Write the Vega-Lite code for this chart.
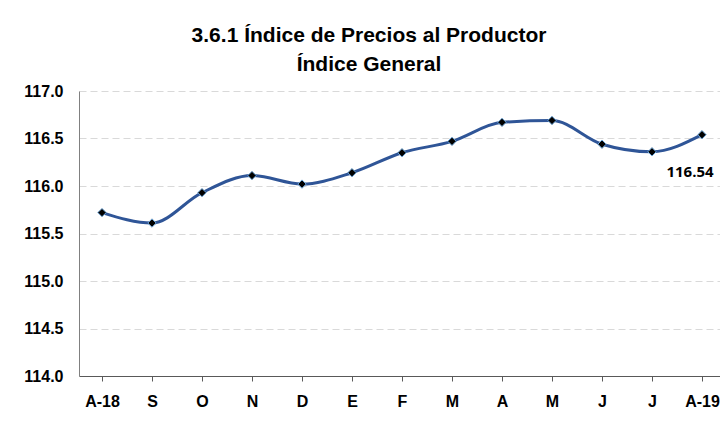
{
  "$schema": "https://vega.github.io/schema/vega-lite/v6.json",
  "autosize": {"type": "none"},
  "width": 646,
  "height": 285,
  "padding": {"left": 79, "top": 91, "right": 0, "bottom": 47},
  "background": "white",
  "title": {
    "text": ["3.6.1 Índice de Precios al Productor", "Índice General"],
    "font": "Liberation Sans",
    "fontSize": 21,
    "fontWeight": "bold",
    "color": "#000000",
    "anchor": "middle",
    "dx": -33,
    "offset": 8,
    "lineHeight": 29
  },
  "data": {
    "values": [
      {"mes": "A-18", "valor": 115.72},
      {"mes": "S", "valor": 115.61},
      {"mes": "O", "valor": 115.93},
      {"mes": "N", "valor": 116.11},
      {"mes": "D", "valor": 116.02},
      {"mes": "E", "valor": 116.14},
      {"mes": "F", "valor": 116.35},
      {"mes": "M1", "valor": 116.47},
      {"mes": "A", "valor": 116.67},
      {"mes": "M2", "valor": 116.69},
      {"mes": "J1", "valor": 116.44},
      {"mes": "J2", "valor": 116.36},
      {"mes": "A-19", "valor": 116.54}
    ]
  },
  "encoding": {
    "x": {
      "field": "mes",
      "type": "ordinal",
      "sort": null,
      "scale": {"type": "point", "padding": 0.46},
      "axis": {
        "title": null,
        "labelAngle": 0,
        "labelExpr": "length(datum.label) == 2 ? substring(datum.label, 0, 1) : datum.label",
        "labelFont": "Liberation Sans",
        "labelFontSize": 16,
        "labelFontWeight": "bold",
        "labelColor": "#000000",
        "labelPadding": 12,
        "domainColor": "#595959",
        "domainWidth": 1,
        "tickColor": "#595959",
        "tickSize": 5,
        "grid": false
      }
    },
    "y": {
      "field": "valor",
      "type": "quantitative",
      "scale": {"domain": [114, 117], "zero": false, "nice": false},
      "axis": {
        "title": null,
        "values": [114, 114.5, 115, 115.5, 116, 116.5, 117],
        "format": ".1f",
        "labelFont": "Liberation Sans",
        "labelFontSize": 16,
        "labelFontWeight": "bold",
        "labelColor": "#000000",
        "labelPadding": 16,
        "ticks": false,
        "domainColor": "#808080",
        "domainWidth": 1,
        "grid": true,
        "gridColor": "#d9d9d9",
        "gridDash": [7, 4],
        "gridWidth": 1
      }
    }
  },
  "layer": [
    {
      "mark": {"type": "line", "interpolate": "monotone", "color": "#2f5597", "strokeWidth": 3}
    },
    {
      "mark": {"type": "point", "shape": "diamond", "filled": true, "size": 70, "fill": "#000000", "stroke": "#6fa8dc", "strokeWidth": 1, "opacity": 1}
    },
    {
      "transform": [{"filter": "datum.mes == 'A-19'"}],
      "mark": {"type": "text", "dx": -12, "dy": 37, "font": "Open Sans", "fontSize": 15, "fontWeight": "bold", "color": "#000000", "align": "center", "baseline": "middle"},
      "encoding": {"text": {"field": "valor", "type": "quantitative", "format": ".2f"}}
    }
  ],
  "config": {"view": {"stroke": null}}
}
